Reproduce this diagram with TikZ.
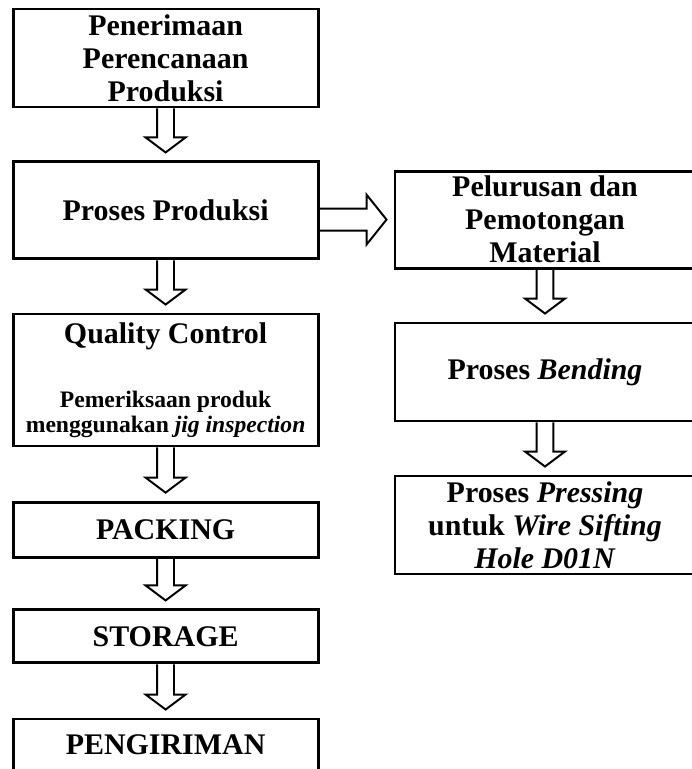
\documentclass[tikz,border=0pt]{standalone}
\usepackage{fontspec}
\setmainfont{Liberation Serif}
\usetikzlibrary{calc}
\newcommand{\smalltext}{\fontsize{16.8}{17.8}\selectfont}
\newcommand{\blockdown}[2]{%
  \draw[blockarrow] let \p1=(#1.south), \p2=(#2.north) in
    (\x1-0.21cm,\y1) -- (\x1-0.21cm,\y2+0.575cm) -- (\x1-0.5cm,\y2+0.575cm)
    -- (\x1,\y2+0.2cm) -- (\x1+0.5cm,\y2+0.575cm) -- (\x1+0.21cm,\y2+0.575cm)
    -- (\x1+0.21cm,\y1);}
\newcommand{\blockright}[2]{%
  \draw[blockarrow] let \p1=(#1.east), \p2=(#2.west) in
    (\x1,\y2+0.275cm) -- (\x2-0.675cm,\y2+0.275cm) -- (\x2-0.675cm,\y2+0.625cm)
    -- (\x2-0.175cm,\y2) -- (\x2-0.675cm,\y2-0.625cm) -- (\x2-0.675cm,\y2-0.275cm)
    -- (\x1,\y2-0.275cm);}
\begin{document}
\begin{tikzpicture}[box/.style={draw, line width=2.1pt, minimum width=7.625cm, align=center, inner sep=0pt, font=\bfseries\fontsize{21.3}{23.5}\selectfont},
  blockarrow/.style={line width=1.4pt}]
\useasboundingbox (0,0) rectangle (17.3,-19.225);
\clip (0,0) rectangle (17.3,-19.225);
\node[box, minimum height=2.45cm] (a) at (4.14,-1.45) {Penerimaan\\Perencanaan\\Produksi};
\node[box, minimum height=2.425cm] (b) at (4.14,-5.26) {Proses Produksi};
\node[box, minimum height=3.3cm] (c) at (4.14,-9.5) {Quality Control\\[22pt]\smalltext Pemeriksaan produk\\[-5.7pt]\smalltext menggunakan \textit{jig inspection}};
\node[box, minimum height=1.375cm] (d) at (4.14,-13.24) {PACKING};
\node[box, minimum height=1.325cm] (e) at (4.14,-15.91) {STORAGE};
\node[box, minimum height=1.3cm] (f) at (4.14,-18.625) {PENGIRIMAN};
\node[box, minimum width=7.5cm, minimum height=2.425cm] (g) at (13.625,-5.49) {Pelurusan dan\\Pemotongan\\Material};
\node[box, minimum width=7.5cm, minimum height=2.45cm] (h) at (13.625,-9.3) {Proses \textit{Bending}};
\node[box, minimum width=7.5cm, minimum height=2.45cm] (i) at (13.625,-13.125) {Proses \textit{Pressing}\\untuk \textit{Wire Sifting}\\\textit{Hole D01N}};
\blockdown{a}{b}
\blockdown{b}{c}
\blockdown{c}{d}
\blockdown{d}{e}
\blockdown{e}{f}
\blockright{b}{g}
\blockdown{g}{h}
\blockdown{h}{i}
\end{tikzpicture}
\end{document}
